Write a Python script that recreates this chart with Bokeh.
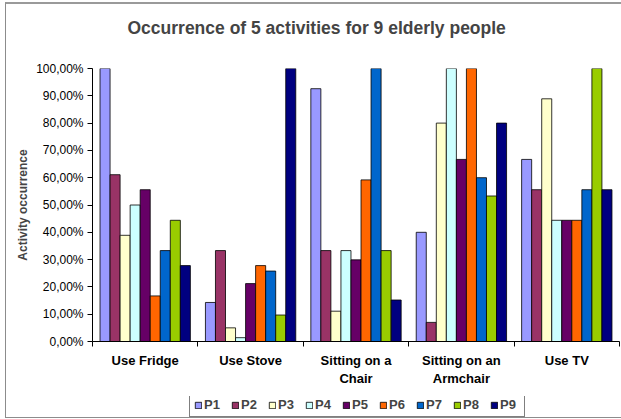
import numpy as np
from bokeh.plotting import figure
from bokeh.layouts import column
from bokeh.models import (ColumnDataSource, Range1d, FixedTicker, Legend, LegendItem, Title)
from bokeh.transform import dodge
from bokeh.embed import file_html
from bokeh.resources import INLINE

categories = ["Use Fridge", "Use Stove", "Sitting on a\nChair", "Sitting on an\nArmchair", "Use TV"]
people = ["P1", "P2", "P3", "P4", "P5", "P6", "P7", "P8", "P9"]
P1 = [100.0, 14.3, 92.6, 40.0, 66.7]
P2 = [61.1, 33.3, 33.3, 7.0, 55.6]
P3 = [38.9, 5.0, 11.1, 80.0, 88.9]
P4 = [50.0, 1.4, 33.3, 100.0, 44.4]
P5 = [55.6, 21.2, 29.9, 66.7, 44.4]
P6 = [16.7, 27.8, 59.2, 100.0, 44.4]
P7 = [33.3, 25.8, 100.0, 60.0, 55.6]
P8 = [44.4, 9.7, 33.3, 53.3, 100.0]
P9 = [27.8, 100.0, 15.2, 80.0, 55.6]
y_ticks = [0, 10, 20, 30, 40, 50, 60, 70, 80, 90, 100]
y_tick_labels = ["0,00%", "10,00%", "20,00%", "30,00%", "40,00%", "50,00%",
                 "60,00%", "70,00%", "80,00%", "90,00%", "100,00%"]
colors = ["#9999FF", "#993366", "#FFFFCC", "#CCFFFF", "#660066",
          "#FF6600", "#0066CC", "#99CC00", "#000080"]

series = [P1, P2, P3, P4, P5, P6, P7, P8, P9]
ncat = len(categories)
centers = np.arange(ncat) + 0.5
data = {"x": centers}
for name, vals in zip(people, series):
    data[name] = vals
source = ColumnDataSource(data)

FONT = "Liberation Sans"

p = figure(width=615, height=392, output_backend="svg", toolbar_location=None,
           x_range=Range1d(0, ncat), y_range=Range1d(0, 100),
           min_border_left=86, min_border_right=2, min_border_top=64, min_border_bottom=55)
p.outline_line_color = None
p.grid.visible = False
p.background_fill_color = "white"
p.border_fill_color = "white"

p.title.text = "Occurrence of 5 activities for 9 elderly people"
p.title.text_font = FONT
p.title.text_font_size = "17.5px"
p.title.text_font_style = "bold"
p.title.align = "left"
p.title.offset = 35
p.title.standoff = 10
spacer = Title(text=" ", text_font_size="1px", standoff=23)
p.add_layout(spacer, "above")

w = 1.0 / (len(people) + 1.5)
for j, name in enumerate(people):
    off = (j - (len(people) - 1) / 2) * w
    p.vbar(x=dodge("x", off, range=p.x_range), top=name, width=w, bottom=0,
           source=source, fill_color=colors[j], line_color="black", line_width=0.8)

# y axis
ya = p.yaxis[0]
ya.ticker = FixedTicker(ticks=y_ticks, minor_ticks=[])
ya.major_label_overrides = {t: l for t, l in zip(y_ticks, y_tick_labels)}
ya.major_tick_out = 5
ya.major_tick_in = 0
ya.major_label_standoff = 4
ya.major_label_text_font = FONT
ya.major_label_text_font_size = "12px"
ya.major_label_text_color = "black"
ya.axis_label = "Activity occurrence"
ya.axis_label_text_font = FONT
ya.axis_label_text_font_size = "12px"
ya.axis_label_text_font_style = "bold"
ya.axis_label_standoff = 3
ya.axis_line_color = "black"

# x axis
xa = p.xaxis[0]
xa.ticker = FixedTicker(ticks=list(centers), minor_ticks=list(np.arange(ncat + 1)))
xa.major_label_overrides = {float(c): lab for c, lab in zip(centers, categories)}
xa.major_tick_line_color = None
xa.minor_tick_out = 5
xa.minor_tick_in = 0
xa.minor_tick_line_color = "black"
xa.major_label_standoff = 5
xa.major_label_text_font = FONT
xa.major_label_text_font_size = "13px"
xa.major_label_text_font_style = "bold"
xa.major_label_text_color = "black"
xa.axis_line_color = "black"

# legend strip (its renderers hold one zero-size bar hidden behind the legend box)
lp = figure(width=615, height=21, output_backend="svg", toolbar_location=None,
            x_range=Range1d(0, 1), y_range=Range1d(0, 1),
            x_axis_type=None, y_axis_type=None,
            min_border_left=0, min_border_right=0, min_border_top=0, min_border_bottom=0)
lp.outline_line_color = None
lp.grid.visible = False
items = []
for j, name in enumerate(people):
    r = lp.vbar(x=[0.5], top=[0.5], bottom=[0.5], width=0, fill_color=colors[j],
                line_color="black", line_width=0.8)
    items.append(LegendItem(label=name, renderers=[r]))
legend = Legend(items=items, orientation="horizontal", location=(97, 0),
                glyph_width=8, glyph_height=8, label_standoff=2, spacing=7,
                label_height=13, padding=4, margin=0,
                label_text_font=FONT, label_text_font_size="13px",
                label_text_font_style="bold", border_line_color="black",
                border_line_width=1, background_fill_color="white", background_fill_alpha=1.0)
lp.add_layout(legend, "center")

layout = column(p, lp, spacing=0)
layout.styles = {"margin-left": "5px", "margin-top": "2px",
                 "border-left": "1px solid #8c8c8c", "border-top": "2px solid #9a9a9a",
                 "border-bottom": "1px solid #8c8c8c"}

open("out.html", "w").write(file_html(layout, INLINE))
